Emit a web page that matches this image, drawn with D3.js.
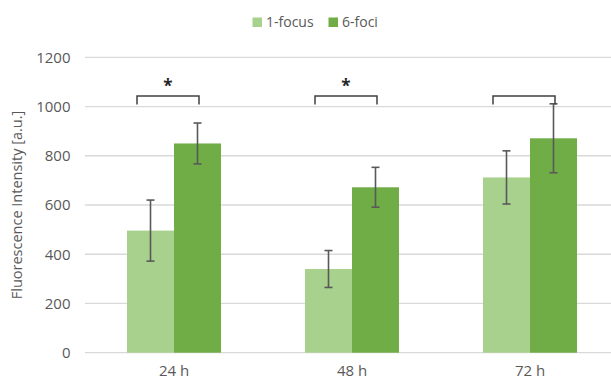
<!DOCTYPE html>
<html>
<head>
<meta charset="utf-8">
<script src="https://cdn.jsdelivr.net/npm/d3@7"></script>
<style>
  body { margin: 0; background: #fff; }
  text { font-family: "Open Sans", sans-serif; fill: #595959; }
</style>
</head>
<body>
<script>
    var w = 611; //width of the svg
    var h = 381; //height of the svg

    var categories = ["24 h", "48 h", "72 h"];
    var series = ["1-focus", "6-foci"];
    var focus1 = [496, 340, 712];
    var foci6 = [850, 672, 871];
    var focus1Err = [124, 75, 108];
    var foci6Err = [83, 81, 140];
    var yTicks = [0, 200, 400, 600, 800, 1000, 1200];
    var significant = [true, true, false]; //star above bracket

    var colors = ["#a9d18e", "#70ad47"];

    var svg = d3.select("body").append("svg")
        .attr("width", w)
        .attr("height", h);

    var xScale = d3.scaleBand()
        .domain(categories)
        .range([85, 619]);

    var yScale = d3.scaleLinear()
        .domain([0, 1200])
        .range([352.7, 57.3]);

    var barW = 47; //width of a single bar
    var subScale = d3.scaleBand()
        .domain(series)
        .range([-barW, barW]);

    // gridlines
    svg.append("g")
        .selectAll("line")
        .data(yTicks)
        .enter()
        .append("line")
        .attr("x1", 85)
        .attr("x2", w)
        .attr("y1", function(d) { return yScale(d); })
        .attr("y2", function(d) { return yScale(d); })
        .attr("stroke", "#d9d9d9")
        .attr("stroke-width", 1.3);

    // y axis labels
    var yAxis = d3.axisLeft(yScale).tickValues(yTicks).tickFormat(d3.format("d")).tickSize(0).tickPadding(0);
    svg.append("g")
        .attr("transform", "translate(70.5,0)")
        .call(yAxis)
        .call(function(g) { g.select(".domain").remove(); })
        .selectAll("text")
        .attr("font-size", "15px")
        .attr("font-family", "Open Sans")
        .attr("fill", "#595959");

    // x axis labels
    var xAxis = d3.axisBottom(xScale).tickSize(0).tickPadding(0);
    svg.append("g")
        .attr("transform", "translate(0,365)")
        .call(xAxis)
        .call(function(g) { g.select(".domain").remove(); })
        .selectAll("text")
        .attr("font-size", "15px")
        .attr("font-family", "Open Sans")
        .attr("fill", "#595959");

    var rows = categories.map(function(c, i) {
        return [
            {cat: c, s: series[0], v: focus1[i], e: focus1Err[i], col: colors[0]},
            {cat: c, s: series[1], v: foci6[i], e: foci6Err[i], col: colors[1]}
        ];
    });
    var flat = [].concat.apply([], rows);

    function barX(d) {
        return xScale(d.cat) + xScale.bandwidth() / 2 + subScale(d.s);
    }

    // bars
    svg.append("g")
        .selectAll("rect")
        .data(flat)
        .enter()
        .append("rect")
        .attr("x", barX)
        .attr("y", function(d) { return yScale(d.v); })
        .attr("width", subScale.bandwidth())
        .attr("height", function(d) { return yScale(0) - yScale(d.v); })
        .attr("fill", function(d) { return d.col; });

    // error bars
    var err = svg.append("g")
        .attr("stroke", "#595959")
        .attr("stroke-width", 1.6);
    flat.forEach(function(d) {
        var cx = barX(d) + subScale.bandwidth() / 2;
        var top = yScale(d.v + d.e), bot = yScale(d.v - d.e);
        err.append("line").attr("x1", cx).attr("x2", cx).attr("y1", top).attr("y2", bot);
        err.append("line").attr("x1", cx - 4).attr("x2", cx + 4).attr("y1", top).attr("y2", top);
        err.append("line").attr("x1", cx - 4).attr("x2", cx + 4).attr("y1", bot).attr("y2", bot);
    });

    // significance brackets
    categories.forEach(function(c, i) {
        var mid = xScale(c) + xScale.bandwidth() / 2;
        var x1 = mid - 37, x2 = mid + 25;
        svg.append("path")
            .attr("d", "M" + x1 + ",104.5 L" + x1 + ",96 L" + x2 + ",96 L" + x2 + ",104.5")
            .attr("fill", "none")
            .attr("stroke", "#404040")
            .attr("stroke-width", 1.5);
        if (significant[i]) {
            svg.append("text")
                .attr("x", (x1 + x2) / 2)
                .attr("y", 92)
                .attr("text-anchor", "middle")
                .attr("font-size", "17px")
                .attr("font-weight", "bold")
                .style("fill", "#262626")
                .text("*");
        }
    });

    // legend
    var legendX = [252.5, 328.5];
    series.forEach(function(s, i) {
        svg.append("rect")
            .attr("x", legendX[i])
            .attr("y", 17.5)
            .attr("width", 9.5)
            .attr("height", 9.5)
            .attr("fill", colors[i]);
        svg.append("text")
            .attr("x", legendX[i] + 13.5)
            .attr("y", 27)
            .attr("font-size", "14px")
            .text(s);
    });

    // y axis title
    svg.append("text")
        .attr("text-anchor", "middle")
        .attr("transform", "translate(22,205) rotate(-90)")
        .attr("font-size", "14.5px")
        .text("Fluorescence Intensity [a.u.]");
</script>
</body>
</html>
